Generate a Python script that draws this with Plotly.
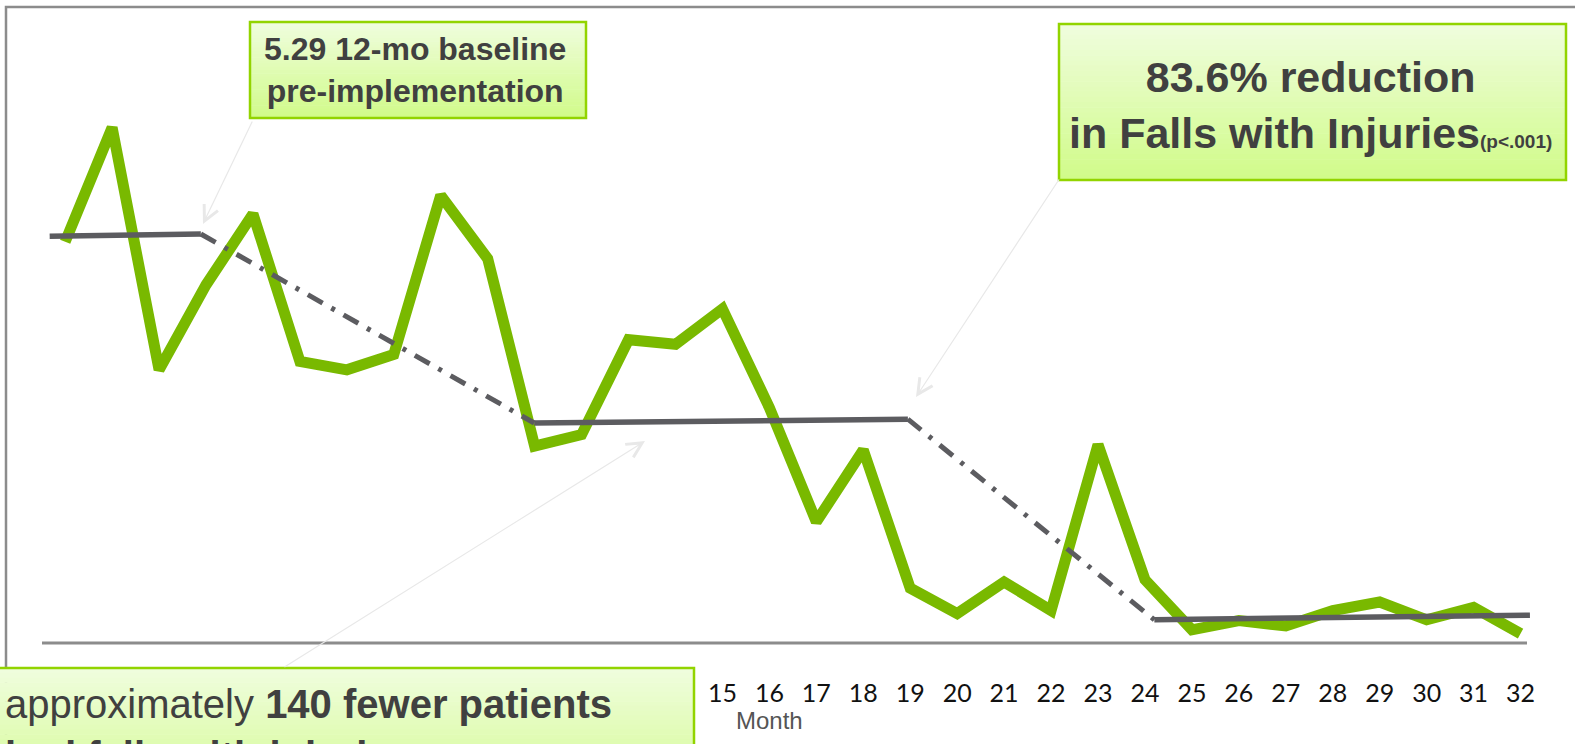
import plotly.graph_objects as go

W, H = 1575, 744

# falls with injuries per month
months = list(range(1, 33))
falls_rate = [5.20, 6.68, 3.54, 4.64, 5.56, 3.65, 3.54, 3.74, 5.80, 4.98,
              2.55, 2.70, 3.93, 3.87, 4.33, 3.05, 1.57, 2.50, 0.71, 0.38,
              0.79, 0.42, 2.57, 0.82, 0.17, 0.29, 0.22, 0.42, 0.53, 0.30,
              0.46, 0.12]

# level lines (solid) and transitions (dash-dot)
level_x = [[0.67, 3.89], [10.99, 18.95], [24.2, 32.2]]
level_y = [[5.27, 5.30], [2.85, 2.90], [0.30, 0.36]]
shift_x = [[3.89, 10.99], [18.95, 24.2]]
shift_y = [[5.30, 2.85], [2.90, 0.30]]

# months 1-14 sit under the bottom callout in the original, only 15+ show
tick_vals = months[14:]
tick_labels = [str(m) for m in tick_vals]

GREEN = "#79b900"
GREY = "#5c5c60"
FRAME = "#8c8c8c"
TEXT = "#404040"
BOX_TOP = (0xef, 0xfd, 0xdd)
BOX_BOT = (0xd1, 0xfb, 0x8a)


def px(x):
    return x / W


def py(y):
    return 1 - y / H


def gradient_box(x0, y0, x1, y1, y_full=None, n=30):
    """Stack thin rects to fake the vertical gradient fill of a callout box."""
    y_end = y_full if y_full is not None else y1
    shapes = []
    step = (y_end - y0) / n
    for i in range(n):
        t = i / (n - 1)
        c = tuple(round(a + (b - a) * t) for a, b in zip(BOX_TOP, BOX_BOT))
        shapes.append(dict(
            type="rect", xref="paper", yref="paper", layer="above",
            x0=px(x0), x1=px(x1), y0=py(y0 + i * step), y1=py(y0 + (i + 1) * step + 0.6),
            fillcolor="rgb(%d,%d,%d)" % c, line=dict(width=0),
        ))
    shapes.append(dict(
        type="rect", xref="paper", yref="paper", layer="above",
        x0=px(x0), x1=px(x1), y0=py(y0), y1=py(y_end),
        fillcolor="rgba(0,0,0,0)", line=dict(color="#92d400", width=2.5),
    ))
    return shapes


fig = go.Figure()

fig.add_trace(go.Scatter(
    x=months, y=falls_rate, mode="lines",
    line=dict(color=GREEN, width=11),
    hoverinfo="x+y", showlegend=False,
))
for xs, ys in zip(level_x, level_y):
    fig.add_trace(go.Scatter(x=xs, y=ys, mode="lines",
                             line=dict(color=GREY, width=5.5),
                             hoverinfo="skip", showlegend=False))
for xs, ys in zip(shift_x, shift_y):
    fig.add_trace(go.Scatter(x=xs, y=ys, mode="lines",
                             line=dict(color=GREY, width=5, dash="17px,10px,4px,10px"),
                             hoverinfo="skip", showlegend=False))

shapes = [
    # outer frame (left + top visible)
    dict(type="rect", xref="paper", yref="paper", layer="below",
         x0=px(6), x1=px(1600), y0=py(7), y1=py(800),
         line=dict(color=FRAME, width=2.5), fillcolor="rgba(0,0,0,0)"),
    # x axis baseline
    dict(type="line", xref="paper", yref="y", layer="below",
         x0=px(42), x1=px(1527), y0=0, y1=0,
         line=dict(color=FRAME, width=3)),
]
shapes += gradient_box(250, 22, 586, 118)
shapes += gradient_box(1059, 24, 1566, 180)
shapes += gradient_box(-10, 668, 694, 744, y_full=810)

annotations = [
    dict(xref="paper", yref="paper", x=px(415), y=py(70),
         xanchor="center", yanchor="middle", showarrow=False, align="center",
         text="<b>5.29 12-mo baseline<br>pre-implementation</b>",
         font=dict(family="Liberation Sans, Arial", size=32, color=TEXT)),
    dict(xref="paper", yref="paper", x=px(1310), y=py(105),
         xanchor="center", yanchor="middle", showarrow=False, align="center",
         text=("<b>83.6% reduction<br>in Falls with Injuries"
               "<span style='font-size:19px'>(p&lt;.001)</span></b>"),
         font=dict(family="Liberation Sans, Arial", size=43, color=TEXT)),
    dict(xref="paper", yref="paper", x=px(3), y=py(730),
         xanchor="left", yanchor="middle", showarrow=False, align="left",
         text="approximately <b>140 fewer patients<br>had falls with injuries</b>",
         font=dict(family="Liberation Sans, Arial", size=40, color=TEXT)),
    dict(xref="paper", yref="paper", x=px(769), y=py(720),
         xanchor="center", yanchor="middle", showarrow=False,
         text="Month",
         font=dict(family="Liberation Sans Narrow, Arial Narrow, Liberation Sans",
                   size=24, color="#555555")),
]

# faint callout arrows
for head, tail in [((203, 224), (253, 120)),
                   ((916, 397), (1060, 178)),
                   ((645, 441), (283, 668))]:
    annotations.append(dict(
        xref="paper", yref="paper", x=px(head[0]), y=py(head[1]),
        ax=tail[0] - head[0], ay=tail[1] - head[1], text="",
        showarrow=True, arrowhead=5, arrowsize=2.5, arrowwidth=1.2,
        arrowcolor="#e8e8e8",
    ))

fig.update_layout(
    width=W, height=H,
    margin=dict(l=0, r=0, t=0, b=0, autoexpand=False),
    plot_bgcolor="white", paper_bgcolor="white",
    showlegend=False,
    xaxis=dict(
        range=[-0.388, 33.16], tickmode="array", tickvals=tick_vals,
        ticktext=tick_labels, showgrid=False, zeroline=False, showline=False,
        ticks="", anchor="free", position=(H - 643) / H,
        ticklabelstandoff=33,
        tickfont=dict(family="Lato, Noto Sans", size=25, color="#111111"),
        fixedrange=True,
    ),
    yaxis=dict(
        range=[-1.31, 8.333], visible=False, fixedrange=True,
    ),
    shapes=shapes,
    annotations=annotations,
)

# drop the browser's default body margin so the figure sits at the page origin
fig.write_html(
    "out.html",
    config={"displayModeBar": False},
    post_script="document.body.style.margin='0';document.body.style.overflow='hidden';",
)
